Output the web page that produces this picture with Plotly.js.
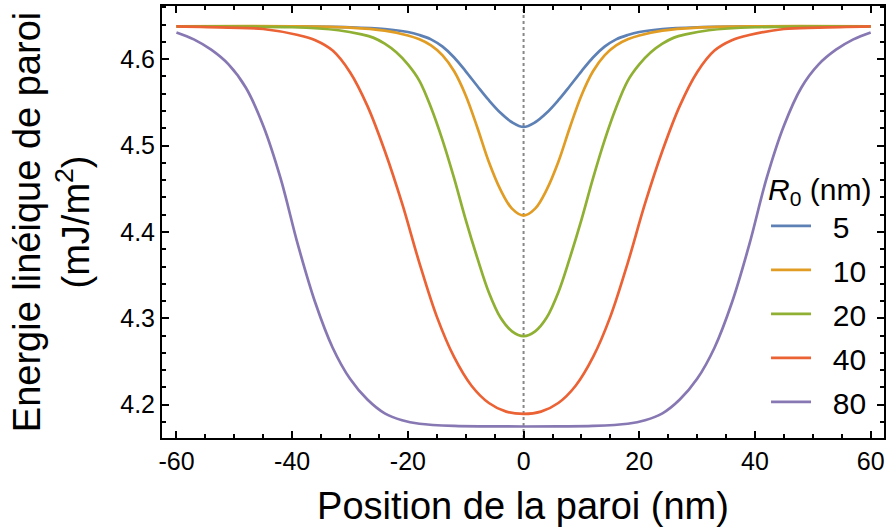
<!DOCTYPE html>
<html><head><meta charset="utf-8">
<script src="https://cdn.plot.ly/plotly-3.0.1.min.js"></script>
<style>html,body{margin:0;padding:0;background:#fff}#chart{width:888px;height:529px}</style>
</head><body><div id="chart"></div>
<script>
const seriesNames = ['5', '10', '20', '40', '80'];
const seriesColors = ['#5E81B5', '#E19C24', '#8FB032', '#EB6235', '#8778B3'];

const xR5 = [-60, -40, -30, -24, -20, -18, -16, -14, -12, -10, -8, -6, -4, -2, 0, 2, 4, 6, 8, 10, 12, 14, 16, 18, 20, 24, 30, 40, 60];
const yR5 = [4.638, 4.638, 4.637, 4.635, 4.6315, 4.628, 4.623, 4.6145, 4.602, 4.586, 4.569, 4.5525, 4.538, 4.527, 4.5216, 4.527, 4.538, 4.5525, 4.569, 4.586, 4.602, 4.6145, 4.623, 4.628, 4.6315, 4.635, 4.637, 4.638, 4.638];

const xR10 = [-60, -40, -30, -24, -20, -18, -16, -14, -12, -10, -8, -6, -4, -2, 0, 2, 4, 6, 8, 10, 12, 14, 16, 18, 20, 24, 30, 40, 60];
const yR10 = [4.638, 4.638, 4.6365, 4.633, 4.6275, 4.623, 4.616, 4.6045, 4.586, 4.558, 4.521, 4.481, 4.449, 4.427, 4.419, 4.427, 4.449, 4.481, 4.521, 4.558, 4.586, 4.6045, 4.616, 4.623, 4.6275, 4.633, 4.6365, 4.638, 4.638];

const xR20 = [-60, -40, -32, -28, -26, -24, -22, -20, -18, -16, -14, -12, -10, -8, -6, -4, -2, 0, 2, 4, 6, 8, 10, 12, 14, 16, 18, 20, 22, 24, 26, 28, 32, 40, 60];
const yR20 = [4.638, 4.637, 4.6335, 4.6287, 4.625, 4.618, 4.608, 4.594, 4.575, 4.544, 4.506, 4.462, 4.414, 4.370, 4.330, 4.301, 4.285, 4.2794, 4.285, 4.301, 4.330, 4.370, 4.414, 4.462, 4.506, 4.544, 4.575, 4.594, 4.608, 4.618, 4.625, 4.6287, 4.6335, 4.637, 4.638];

const xR40 = [-60, -51, -45, -39, -36, -33, -30, -27, -24, -21, -18, -15, -12, -9, -6, -3, 0, 3, 6, 9, 12, 15, 18, 21, 24, 27, 30, 33, 36, 39, 45, 51, 60];
const yR40 = [4.638, 4.6366, 4.635, 4.628, 4.622, 4.610, 4.585, 4.546, 4.494, 4.433, 4.364, 4.302, 4.255, 4.222, 4.202, 4.192, 4.1894, 4.192, 4.202, 4.222, 4.255, 4.302, 4.364, 4.433, 4.494, 4.546, 4.585, 4.610, 4.622, 4.628, 4.635, 4.6366, 4.638];

const xR80 = [-60, -57, -54, -51, -48, -45, -42, -39, -36, -33, -30, -27, -24, -21, -18, -12, -6, 0, 6, 12, 18, 21, 24, 27, 30, 33, 36, 39, 42, 45, 48, 51, 54, 57, 60];
const yR80 = [4.631, 4.623, 4.611, 4.594, 4.567, 4.523, 4.462, 4.385, 4.318, 4.266, 4.230, 4.206, 4.190, 4.182, 4.178, 4.1755, 4.175, 4.1748, 4.175, 4.1755, 4.178, 4.182, 4.190, 4.206, 4.230, 4.266, 4.318, 4.385, 4.462, 4.523, 4.567, 4.594, 4.611, 4.623, 4.631];

const xTickVals = [-60, -40, -20, 0, 20, 40, 60];
const xTickText = ['-60', '-40', '-20', '0', '20', '40', '60'];
const yTickVals = [4.2, 4.3, 4.4, 4.5, 4.6];
const yTickText = ['4.2', '4.3', '4.4', '4.5', '4.6'];

const xs = [xR5, xR10, xR20, xR40, xR80];
const ys = [yR5, yR10, yR20, yR40, yR80];

const FONT = '"Liberation Sans", Arial, Helvetica, sans-serif';
const LEGEND_PAD = '\u2007';

const traces = seriesNames.map((name, i) => ({
  type: 'scatter', mode: 'lines', name: LEGEND_PAD + name,
  x: xs[i], y: ys[i],
  legendgroup: 'g' + i,
  line: {color: seriesColors[i], width: 2.7, shape: 'spline', smoothing: 1},
  hoverinfo: 'skip'
}));

const axisCommon = {
  showline: true, linewidth: 2, linecolor: '#000', mirror: 'ticks',
  ticks: 'inside', ticklen: 7, tickwidth: 2, tickcolor: '#000',
  showgrid: false, zeroline: false, automargin: false,
  tickfont: {family: FONT, size: 25, color: '#000'}
};

const layout = {
  width: 888, height: 529,
  margin: {l: 162, r: 4, t: 6, b: 91},
  paper_bgcolor: '#fff', plot_bgcolor: '#fff',
  font: {family: FONT, color: '#000'},
  showlegend: true,
  legend: {
    x: 0.8366, y: 0.6415, xanchor: 'left', yanchor: 'top',
    bgcolor: 'rgba(0,0,0,0)', borderwidth: 0,
    traceorder: 'grouped', tracegroupgap: 2, itemwidth: 40,
    font: {family: FONT, size: 30, color: '#000'},
    title: {text: '<i>R</i><sub>0</sub> (nm)', side: 'top', font: {family: FONT, size: 30, color: '#000'}}
  },
  xaxis: Object.assign({}, axisCommon, {
    range: [-62.5, 62.3],
    tickmode: 'array', tickvals: xTickVals, ticktext: xTickText,
    minor: {tick0: 0, dtick: 5, ticks: 'inside', ticklen: 4, tickwidth: 2, tickcolor: '#000', showgrid: false},
    title: {text: 'Position de la paroi (nm)', font: {family: FONT, size: 38, color: '#000'}, standoff: 18}
  }),
  yaxis: Object.assign({}, axisCommon, {
    range: [4.1615, 4.6616],
    tickmode: 'array', tickvals: yTickVals, ticktext: yTickText,
    minor: {tick0: 4.2, dtick: 0.02, ticks: 'inside', ticklen: 4, tickwidth: 2, tickcolor: '#000', showgrid: false},
    title: {text: 'Energie linéique de paroi<br>(mJ/m<sup>2</sup>)', font: {family: FONT, size: 38, color: '#000'}, standoff: 19}
  }),
  shapes: [{
    type: 'line', xref: 'x', yref: 'paper', x0: 0, x1: 0, y0: 0, y1: 1,
    layer: 'below', line: {color: '#888', width: 2, dash: 'dot'}
  }]
};

Plotly.newPlot('chart', traces, layout, {staticPlot: true, displayModeBar: false});
</script>
</body></html>
